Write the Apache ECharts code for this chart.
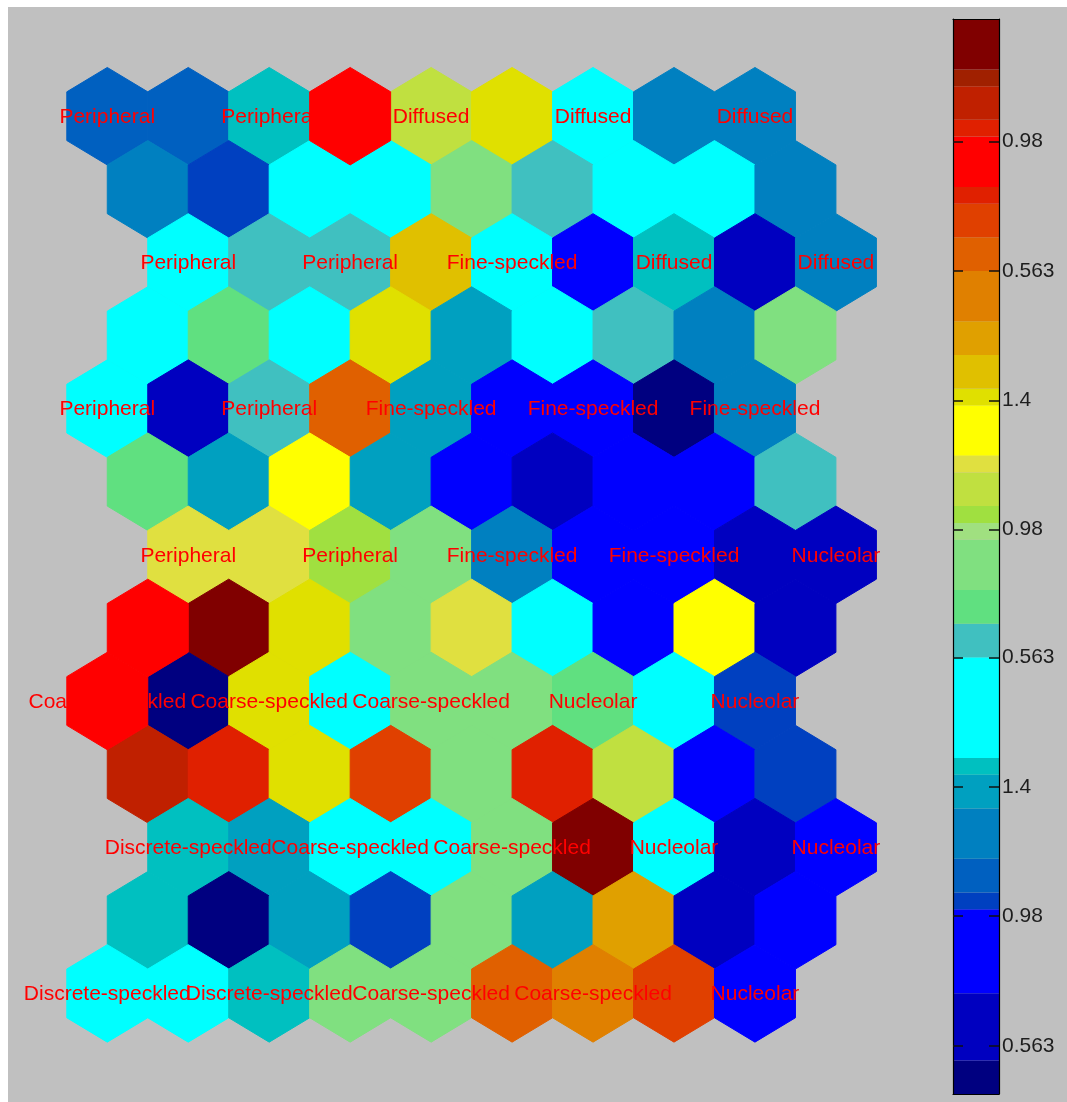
<!DOCTYPE html>
<html>
<head>
<meta charset="utf-8">
<script src="https://cdn.jsdelivr.net/npm/echarts@6/dist/echarts.min.js"></script>
<style>
html,body{margin:0;padding:0;background:#ffffff;width:1067px;height:1102px;overflow:hidden;}
#chart{position:absolute;left:8px;top:7px;width:1059px;height:1095px;}
</style>
</head>
<body>
<div id="chart"></div>
<script>
// ---- Data ----
// U-matrix cell values (colormap level, 0..63), 13 rows x 9 columns, top row first
const row00 = [13, 13, 19, 55, 36, 41, 23, 15, 15];
const row01 = [15, 11, 23, 23, 31, 27, 23, 23, 15];
const row02 = [23, 27, 27, 43, 23, 8, 19, 4, 15];
const row03 = [23, 29, 23, 41, 18, 23, 27, 15, 31];
const row04 = [23, 4, 27, 50, 18, 8, 8, 1, 15];
const row05 = [29, 18, 39, 18, 8, 4, 8, 8, 27];
const row06 = [37, 37, 34, 31, 15, 8, 8, 4, 4];
const row07 = [55, 62, 41, 31, 37, 23, 8, 39, 4];
const row08 = [55, 1, 41, 23, 31, 31, 29, 23, 11];
const row09 = [59, 53, 41, 52, 31, 53, 36, 8, 11];
const row10 = [19, 18, 23, 23, 31, 62, 23, 4, 8];
const row11 = [19, 1, 18, 11, 31, 18, 45, 4, 8];
const row12 = [23, 23, 19, 31, 31, 50, 47, 52, 8];
const umatRows = [row00,row01,row02,row03,row04,row05,row06,row07,row08,row09,row10,row11,row12];

// Map-unit labels (7 map rows x 5 map columns), placed on even U-matrix rows/cols
const labels0 = ['Peripheral','Peripheral','Diffused','Diffused','Diffused'];
const labels1 = ['Peripheral','Peripheral','Fine-speckled','Diffused','Diffused'];
const labels2 = ['Peripheral','Peripheral','Fine-speckled','Fine-speckled','Fine-speckled'];
const labels3 = ['Peripheral','Peripheral','Fine-speckled','Fine-speckled','Nucleolar'];
const labels4 = ['Coarse-speckled','Coarse-speckled','Coarse-speckled','Nucleolar','Nucleolar'];
const labels5 = ['Discrete-speckled','Coarse-speckled','Coarse-speckled','Nucleolar','Nucleolar'];
const labels6 = ['Discrete-speckled','Discrete-speckled','Coarse-speckled','Coarse-speckled','Nucleolar'];
const mapLabels = [labels0,labels1,labels2,labels3,labels4,labels5,labels6];

// Hexagonal row shift (in column units) of each U-matrix row
const rowShift = [0, 0.5, 1, 0.5, 0, 0.5, 1, 0.5, 0, 0.5, 1, 0.5, 0];

// Colormap (bottom to top): band colours and how many of the 64 levels each covers
const bandColors = ['#000080','#0000C0','#0000FF','#0040C0','#0060C0','#0080C0','#00A0C0','#00C0C0',
  '#00FFFF','#40C0C0','#60E080','#80E080','#A0E080','#A0E040','#C0E040','#E0E040','#FFFF00',
  '#E0E000','#E0C000','#E0A000','#E08000','#E06000','#E04000','#E02000','#FF0000','#E02000',
  '#C02000','#A02000','#800000'];
const bandSizes = [2,4,5,1,2,3,2,1,6,2,2,3,1,1,2,1,3,1,2,2,3,2,2,1,3,1,2,1,3];
const levelCount = 64;

// Colorbar ticks (level positions, bottom to top) and their labels
const cbTickPos = [2.875, 10.6, 18.27, 26.0, 33.62, 41.3, 49.0, 56.7];
const cbTickLabels = ['0.563','0.98','1.4','0.563','0.98','1.4','0.563','0.98'];

// ---- Build ----
const pieces = [];
const cbData = [];
let acc = 0;
bandColors.forEach((c, i) => {
  pieces.push({gte: acc, lt: acc + bandSizes[i], color: c});
  cbData.push([acc, acc + bandSizes[i], acc]);
  acc += bandSizes[i];
});

const hexData = [];
umatRows.forEach((vals, r) => {
  vals.forEach((v, c) => {
    let lab = '';
    if (r % 2 === 0 && c % 2 === 0) lab = mapLabels[r / 2][c / 2];
    hexData.push({name: lab, value: [c + rowShift[r], r, v]});
  });
});

const chart = echarts.init(document.getElementById('chart'), null, {renderer: 'canvas'});
const labelFont = '21px "Liberation Sans", Arial, sans-serif';
const frameLine = {show: true, onZero: false, lineStyle: {color: '#000', width: 1.2}};
const tickStyle = {show: true, inside: true, length: 10, customValues: cbTickPos, lineStyle: {color: '#111', width: 1.5}};

const option = {
  backgroundColor: '#C0C0C0',
  animation: false,
  grid: [
    {left: 58.8, top: 36.1, width: 809.6, height: 1023.4},
    {left: 945, top: 12, width: 46, height: 1075}
  ],
  xAxis: [
    {gridIndex: 0, type: 'value', min: -0.5, max: 9.5, show: false},
    {gridIndex: 1, type: 'value', min: 0, max: 1, position: 'bottom', z: 10,
     axisLine: frameLine, axisTick: {show: false}, axisLabel: {show: false}, splitLine: {show: false}},
    {gridIndex: 1, type: 'value', min: 0, max: 1, position: 'top', z: 10,
     axisLine: frameLine, axisTick: {show: false}, axisLabel: {show: false}, splitLine: {show: false}}
  ],
  yAxis: [
    {gridIndex: 0, type: 'value', inverse: true, min: -1, max: 13, show: false},
    {gridIndex: 1, type: 'value', min: 0, max: levelCount, position: 'left', z: 10,
     axisLine: frameLine, axisTick: tickStyle, axisLabel: {show: false}, splitLine: {show: false}},
    {gridIndex: 1, type: 'value', min: 0, max: levelCount, position: 'right', z: 10,
     axisLine: frameLine, axisTick: tickStyle,
     axisLabel: {show: true, customValues: cbTickPos, margin: 3, color: '#1e1e1e',
       fontFamily: '"Liberation Sans", Arial, sans-serif', fontSize: 21,
       formatter: function (v) {
         for (let i = 0; i < cbTickPos.length; i++) {
           if (Math.abs(cbTickPos[i] - v) < 1e-6) return cbTickLabels[i];
         }
         return '';
       }},
     splitLine: {show: false}}
  ],
  visualMap: {
    type: 'piecewise', show: false, dimension: 2, seriesIndex: [0, 1], pieces: pieces
  },
  series: [
    {
      type: 'custom', coordinateSystem: 'cartesian2d', xAxisIndex: 0, yAxisIndex: 0,
      data: hexData, clip: false,
      renderItem: function (params, api) {
        const cx = api.value(0), cy = api.value(1);
        const pts = [[cx, cy - 2/3], [cx + 0.5, cy - 1/3], [cx + 0.5, cy + 1/3],
                     [cx, cy + 2/3], [cx - 0.5, cy + 1/3], [cx - 0.5, cy - 1/3]].map(p => api.coord(p));
        const color = api.visual('color');
        const top = String(color).toUpperCase() === '#FF0000';
        const children = [{
          type: 'polygon', shape: {points: pts}, z2: top ? 10 : 0,
          style: {fill: color, stroke: color, lineWidth: 1}
        }];
        const name = hexData[params.dataIndex].name;
        if (name) {
          const c = api.coord([cx, cy]);
          children.push({
            type: 'text', x: c[0], y: c[1] + 1, z2: 5,
            style: {text: name, fill: '#ff0000', font: labelFont, align: 'center', verticalAlign: 'middle'}
          });
        }
        return {type: 'group', children: children};
      }
    },
    {
      type: 'custom', coordinateSystem: 'cartesian2d', xAxisIndex: 1, yAxisIndex: 1,
      data: cbData, z: 1,
      renderItem: function (params, api) {
        const lo = api.value(0), hi = api.value(1);
        const p0 = api.coord([0, hi]);
        const p1 = api.coord([1, lo]);
        const color = api.visual('color');
        return {type: 'rect', shape: {x: p0[0], y: p0[1], width: p1[0] - p0[0], height: p1[1] - p0[1]},
                style: {fill: color}};
      }
    }
  ]
};
chart.setOption(option);
</script>
</body>
</html>
